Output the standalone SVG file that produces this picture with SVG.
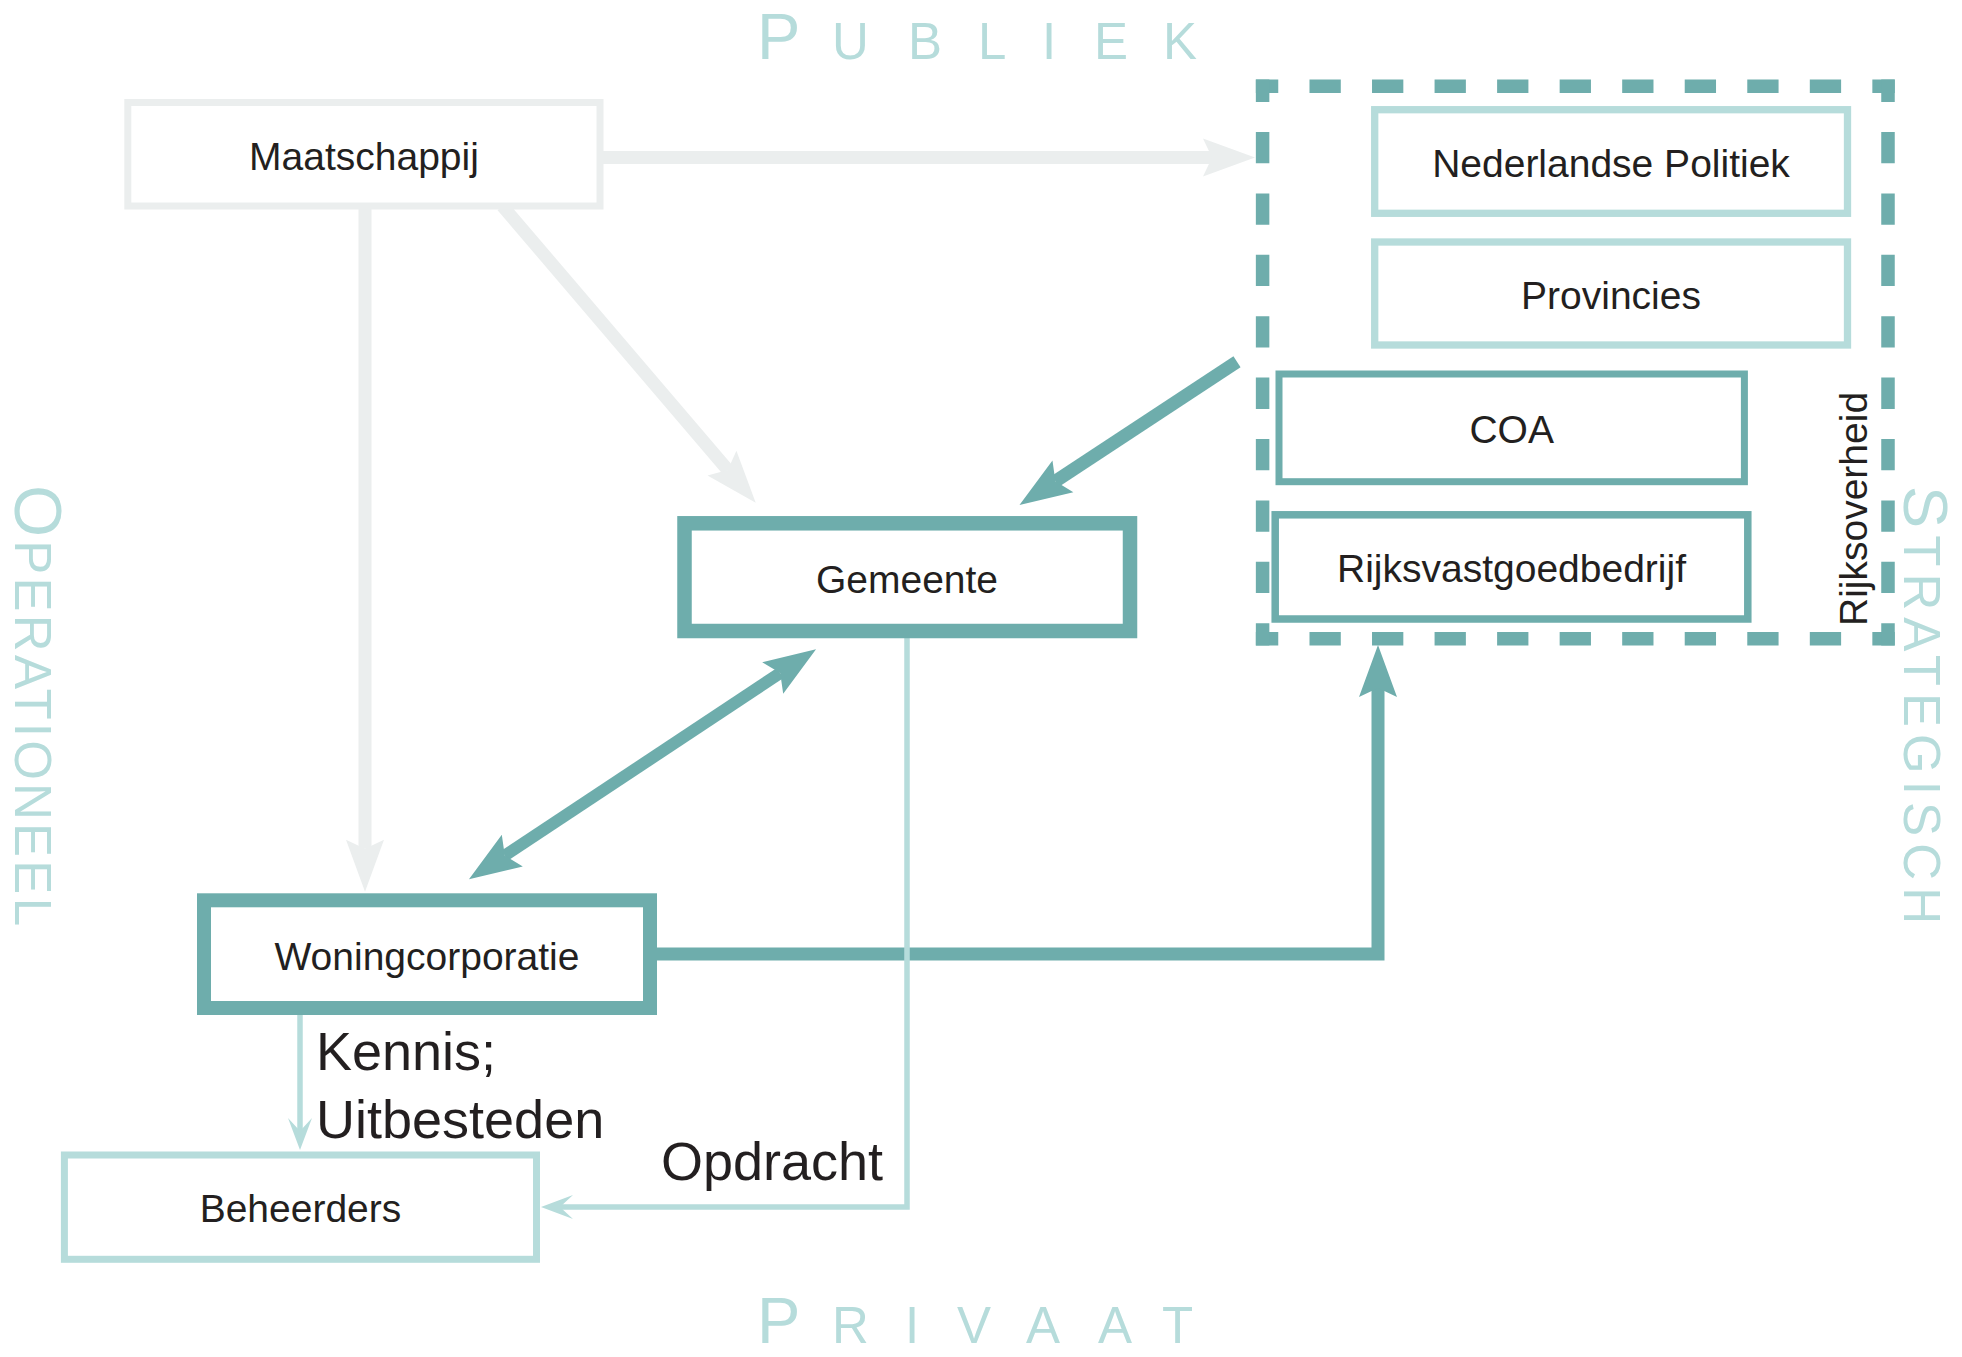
<svg xmlns="http://www.w3.org/2000/svg" width="1962" height="1357" viewBox="0 0 1962 1357">
  <style>
    .lbl { font-family: "Liberation Sans", Arial, sans-serif; fill: #231f20; }
    .node { font-size: 39px; text-anchor: middle; }
    .edge-lbl { font-size: 54px; }
    .axis { font-family: "Liberation Sans", Arial, sans-serif; fill: #b6dcdb; }
    .big { font-size: 65px; }
    .sm { font-size: 51px; }
    .box { fill: #ffffff; }
    .grey { stroke: #ebeeee; }
    .light { stroke: #b6dcdb; }
    .dark { stroke: #6eadac; }
    .conn { fill: none; stroke-linejoin: miter; }
    .dash { fill: none; stroke: #6eadac; stroke-width: 13.5; stroke-linecap: butt; }
  </style>
  <defs>
    <marker id="ah-grey" markerUnits="userSpaceOnUse" orient="auto" refX="0" refY="0" markerWidth="60" markerHeight="40" overflow="visible">
      <path d="M43,0 L-9,-19 L0,0 L-9,19 Z" fill="#ebeeee"/>
    </marker>
    <marker id="ah-dark" markerUnits="userSpaceOnUse" orient="auto" refX="0" refY="0" markerWidth="60" markerHeight="40" overflow="visible">
      <path d="M43,0 L-9,-19 L0,0 L-9,19 Z" fill="#6eadac"/>
    </marker>
    <marker id="ah-dark-start" markerUnits="userSpaceOnUse" orient="auto-start-reverse" refX="0" refY="0" markerWidth="60" markerHeight="40" overflow="visible">
      <path d="M43,0 L-9,-19 L0,0 L-9,19 Z" fill="#6eadac"/>
    </marker>
    <marker id="ah-light" markerUnits="userSpaceOnUse" orient="auto" refX="0" refY="0" markerWidth="40" markerHeight="30" overflow="visible">
      <path d="M19,0 L-13,-12 L0,0 L-13,12 Z" fill="#b6dcdb"/>
    </marker>
  </defs>

  <g id="axis-labels">
    <text class="axis" y="59"><tspan class="big" x="757">P</tspan><tspan class="sm" x="832">U</tspan><tspan class="sm" x="908">B</tspan><tspan class="sm" x="978">L</tspan><tspan class="sm" x="1042">I</tspan><tspan class="sm" x="1094">E</tspan><tspan class="sm" x="1163">K</tspan></text>
    <text class="axis" y="1343"><tspan class="big" x="757">P</tspan><tspan class="sm" x="832">R</tspan><tspan class="sm" x="905">I</tspan><tspan class="sm" x="957">V</tspan><tspan class="sm" x="1026">A</tspan><tspan class="sm" x="1098">A</tspan><tspan class="sm" x="1162">T</tspan></text>
    <text class="axis" transform="translate(15,0) rotate(90)" x="485" y="0" textLength="441" lengthAdjust="spacing"><tspan class="big" style="font-size:67px">O</tspan><tspan class="sm">PERATIONEEL</tspan></text>
    <text class="axis" transform="translate(1904,0) rotate(90)" x="486" y="0" textLength="438" lengthAdjust="spacing"><tspan class="big" style="font-size:63px">S</tspan><tspan class="sm">TRATEGISCH</tspan></text>
  </g>

  <g id="connectors">
    <path id="c-maat-rijk" class="conn grey" stroke-width="13" d="M600,157.6 H1212" marker-end="url(#ah-grey)"/>
    <path id="c-maat-woning" class="conn grey" stroke-width="13" d="M365,206 V848.7" marker-end="url(#ah-grey)"/>
    <path id="c-maat-gemeente" class="conn grey" stroke-width="13" d="M502.5,206 L727.8,470" marker-end="url(#ah-grey)"/>
    <path id="c-rijk-gemeente" class="conn dark" stroke-width="13" d="M1237,361.7 L1055.4,481.3" marker-end="url(#ah-dark)"/>
    <path id="c-gemeente-woning" class="conn dark" stroke-width="12" d="M504.8,855.6 L780.2,673" marker-start="url(#ah-dark-start)" marker-end="url(#ah-dark)"/>
    <path id="c-woning-rijk" class="conn dark" stroke-width="13" d="M656,954 H1378 V688" marker-end="url(#ah-dark)"/>
    <path id="c-woning-beheer" class="conn light" stroke-width="5.5" d="M300,1010 V1131" marker-end="url(#ah-light)"/>
    <path id="c-gemeente-beheer" class="conn light" stroke-width="5.5" d="M907,632 V1207 H560" marker-end="url(#ah-light)"/>
    <text class="lbl edge-lbl" x="316" y="1070">Kennis;</text>
    <text class="lbl edge-lbl" x="316" y="1137.7">Uitbesteden</text>
    <text class="lbl edge-lbl" x="661" y="1180">Opdracht</text>
  </g>

  <g id="node-rijksoverheid">
    <path class="dash" d="M1255.85,86.3 H1894.75" stroke-dasharray="31.3 31.24" stroke-dashoffset="8.9"/>
    <path class="dash" d="M1255.85,638.8 H1894.75" stroke-dasharray="31.3 31.24" stroke-dashoffset="8.9"/>
    <path class="dash" d="M1262.6,79.55 V645.55" stroke-dasharray="31.3 30.09" stroke-dashoffset="8.9"/>
    <path class="dash" d="M1888,79.55 V645.55" stroke-dasharray="31.3 30.09" stroke-dashoffset="8.9"/>
    <text class="lbl" style="font-size:39px" transform="translate(1867,626) rotate(-90)" x="0" y="0">Rijksoverheid</text>
  </g>

  <g id="node-maatschappij">
    <rect class="box grey" stroke-width="7" x="127.8" y="102.5" width="472.2" height="103.5"/>
    <text class="lbl node" x="364" y="170">Maatschappij</text>
  </g>
  <g id="node-nederlandse-politiek">
    <rect class="box light" stroke-width="7.3" x="1374.7" y="109.7" width="472.8" height="103.6"/>
    <text class="lbl node" x="1611" y="176.7">Nederlandse Politiek</text>
  </g>
  <g id="node-provincies">
    <rect class="box light" stroke-width="7.3" x="1374.7" y="242" width="472.8" height="103"/>
    <text class="lbl node" x="1611" y="308.8">Provincies</text>
  </g>
  <g id="node-coa">
    <rect class="box dark" stroke-width="7" x="1279" y="374" width="465.4" height="107.7"/>
    <text class="lbl node" x="1511.7" y="442.7">COA</text>
  </g>
  <g id="node-rijksvastgoedbedrijf">
    <rect class="box dark" stroke-width="7.5" x="1275.2" y="514.8" width="472.6" height="104.2"/>
    <text class="lbl node" x="1511.5" y="582.4">Rijksvastgoedbedrijf</text>
  </g>
  <g id="node-gemeente">
    <rect class="box dark" stroke-width="14.5" x="684.5" y="523.3" width="445.5" height="107.7"/>
    <text class="lbl node" x="907" y="593.3">Gemeente</text>
  </g>
  <g id="node-woningcorporatie">
    <rect class="box dark" stroke-width="14" x="204" y="900.3" width="446" height="107.7"/>
    <text class="lbl node" x="427" y="970">Woningcorporatie</text>
  </g>
  <g id="node-beheerders">
    <rect class="box light" stroke-width="7" x="64.4" y="1155" width="472.1" height="104.3"/>
    <text class="lbl node" x="300.5" y="1221.7">Beheerders</text>
  </g>
</svg>
